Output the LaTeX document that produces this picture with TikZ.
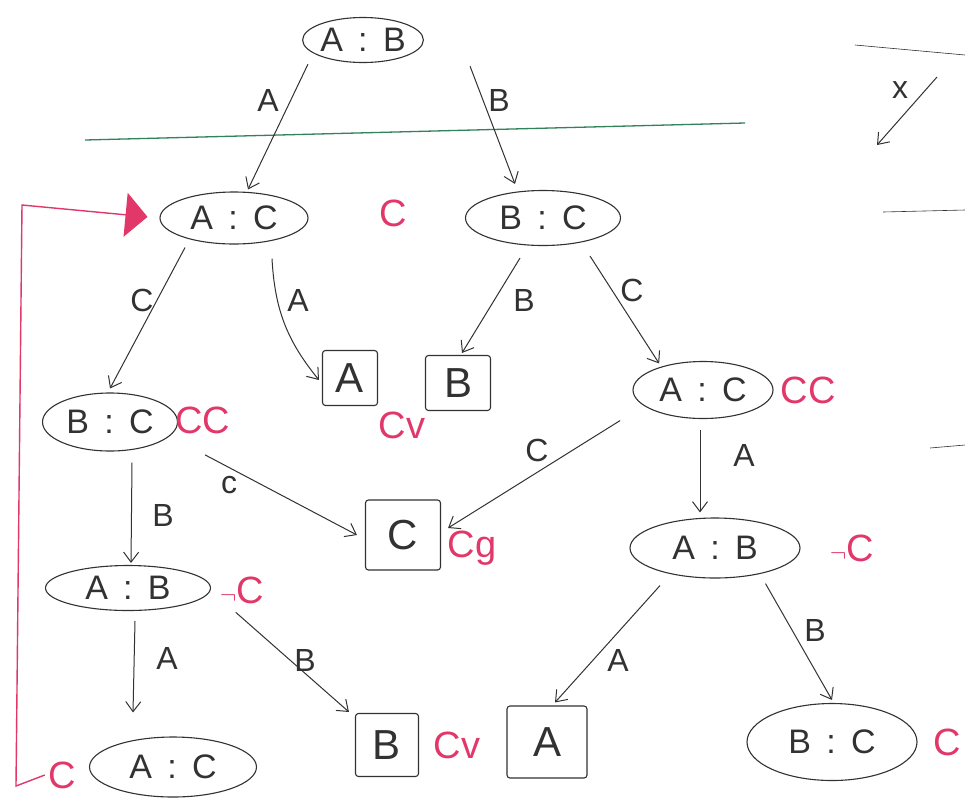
\documentclass[tikz,border=0pt]{standalone}
\usepackage{fontspec}
\setmainfont{Liberation Sans}
\usetikzlibrary{shapes.geometric,arrows.meta}
\definecolor{ink}{RGB}{50,50,50}
\definecolor{redink}{RGB}{225,55,105}
\definecolor{greenink}{RGB}{50,130,90}
\newcommand{\sep}{\hspace{0.45em}:\hspace{0.45em}}
\begin{document}
\begin{tikzpicture}[x=1pt,y=-1pt,
 st/.style={ellipse,draw=ink,line width=1.1pt,inner sep=0pt,font=\fontsize{34}{36}\selectfont,text=ink},
 bx/.style={rectangle,draw=ink,line width=1.1pt,inner sep=0pt,rounded corners=3pt,font=\fontsize{42}{44}\selectfont,text=ink},
 lbl/.style={font=\fontsize{32}{34}\selectfont,text=ink},
 rl/.style={font=\fontsize{38}{40}\selectfont,text=redink},
 ed/.style={draw=ink,line width=1pt,-{Straight Barb[length=10pt,width=15pt]}},
 thin/.style={draw=ink,line width=0.6pt},
]
\useasboundingbox (0,0) rectangle (965,804);
\fill[white] (0,0) rectangle (965,804);

% states
\node[st,minimum width=100pt,minimum height=45pt] (root) at (363,40) {A\sep B};
\node[st,minimum width=148pt,minimum height=52pt] (ac1) at (234,218) {A\sep C};
\node[st,minimum width=155pt,minimum height=55pt] (bc1) at (543,218) {B\sep C};
\node[st,minimum width=135pt,minimum height=58pt] (bc2) at (110,422) {B\sep C};
\node[st,minimum width=140pt,minimum height=57pt] (ac2) at (703,390) {A\sep C};
\node[st,minimum width=170pt,minimum height=60pt] (ab2) at (715,548) {A\sep B};
\node[st,minimum width=165pt,minimum height=45pt] (ab1) at (128,588) {A\sep B};
\node[st,minimum width=167pt,minimum height=60pt] (ac3) at (173,767) {A\sep C};
\node[st,minimum width=170pt,minimum height=77pt] (bc3) at (832,742) {B\sep C};

% leaves
\node[bx,minimum width=55pt,minimum height=55pt] (la1) at (350,378) {A};
\node[bx,minimum width=65pt,minimum height=55pt] (lb1) at (458,383) {B};
\node[bx,minimum width=75pt,minimum height=70pt] (lc) at (403,535) {C};
\node[bx,minimum width=63pt,minimum height=63pt] (lb2) at (387,745) {B};
\node[bx,minimum width=80pt,minimum height=72pt] (la2) at (547,742) {A};

% green separator
\coordinate (g1) at (85,140);
\coordinate (g2) at (745,123);
\draw[greenink,line width=1.3pt] (g1) -- (g2);

% edges (yshift negative = downward on the page)
\draw[ed] ([xshift=-12pt,yshift=-8pt]root.south west) -- ([xshift=14pt,yshift=2pt]ac1.north);
\draw[ed] ([xshift=64pt,yshift=-10pt]root.south east) -- ([xshift=-28pt,yshift=6pt]bc1.north);
\draw[ed] ([xshift=-49pt,yshift=-3pt]ac1.south) -- ([yshift=4pt]bc2.north);
\draw[ed] ([xshift=38pt,yshift=-14pt]ac1.south) to[bend right=18] ([xshift=-3pt,yshift=-2pt]la1.west);
\draw[ed] ([xshift=-23pt,yshift=-12pt]bc1.south) -- ([xshift=4pt,yshift=2pt]lb1.north);
\draw[ed] ([xshift=47pt,yshift=-10pt]bc1.south) -- ([xshift=6pt,yshift=6pt]ac2.north west);
\draw[ed] ([xshift=47pt,yshift=-12pt]bc2.south east) -- ([xshift=-8pt]lc.west);
\draw[ed] ([xshift=-33pt,yshift=-10pt]ac2.south west) -- ([xshift=7pt,yshift=7pt]lc.east);
\draw[ed] ([xshift=22pt,yshift=-11pt]bc2.south) -- ([xshift=3pt,yshift=2pt]ab1.north);
\draw[ed] ([xshift=-3pt,yshift=-11pt]ac2.south) -- ([xshift=-15pt,yshift=5pt]ab2.north);
\draw[ed] ([xshift=7pt,yshift=-10pt]ab1.south) -- ([xshift=-40pt,yshift=24pt]ac3.north);
\draw[ed] ([xshift=49pt,yshift=-8pt]ab1.south east) -- ([xshift=-6pt,yshift=1pt]lb2.north west);
\draw[ed] ([xshift=-55pt,yshift=-7pt]ab2.south) -- ([xshift=8pt,yshift=3pt]la2.north);
\draw[ed] ([xshift=-10pt,yshift=-14pt]ab2.south east) -- ([yshift=3pt]bc3.north);

% edge labels
\node[lbl] (e1) at (268,100) {A};
\node[lbl] (e2) at (499,100) {B};
\node[lbl] (e3) at (142,300) {C};
\node[lbl] (e4) at (298,300) {A};
\node[lbl] (e5) at (524,300) {B};
\node[lbl] (e6) at (632,290) {C};
\node[lbl] (e7) at (229,485) {c};
\node[lbl] (e8) at (537,450) {C};
\node[lbl] (e9) at (163,515) {B};
\node[lbl] (e10) at (744,455) {A};
\node[lbl] (e11) at (167,658) {A};
\node[lbl] (e12) at (305,660) {B};
\node[lbl] (e13) at (618,660) {A};
\node[lbl] (e14) at (815,630) {B};

% red annotations
\node[rl] (r1) at (393,213) {C};
\node[rl] (r2) at (203,420) {CC};
\node[rl] (r3) at (808,390) {CC};
\node[rl] (r4) at (402,425) {Cv};
\node[rl] (r5) at (472,548) {Cg};
\node[rl] (r6) at (852,548) {$\neg$C};
\node[rl] (r7) at (242,590) {$\neg$C};
\node[rl] (r8) at (457,745) {Cv};
\node[rl] (r9) at (947,742) {C};
\node[rl] (r10) at (62,775) {C};

% red back-link
\coordinate (rb) at (16,786);
\coordinate (rt) at (22,205);
\draw[redink,line width=1.4pt,-{Triangle[length=22pt,width=44pt]},shorten >=12pt]
  (r10.west) -- (rb) -- (rt) -- (ac1.west);

% top-right margin marks
\coordinate (m1) at (855,45);
\coordinate (m2) at (965,55);
\draw[thin] (m1) -- (m2);
\coordinate (x1) at (937,77);
\coordinate (x2) at (877,145);
\draw[ed] (x1) -- (x2);
\node[lbl] (xl) at (900,90) {x};
\coordinate (m3) at (883,212);
\coordinate (m4) at (965,210);
\draw[thin] (m3) -- (m4);
\coordinate (m5) at (930,448);
\coordinate (m6) at (965,445);
\draw[thin] (m5) -- (m6);
\end{tikzpicture}
\end{document}
